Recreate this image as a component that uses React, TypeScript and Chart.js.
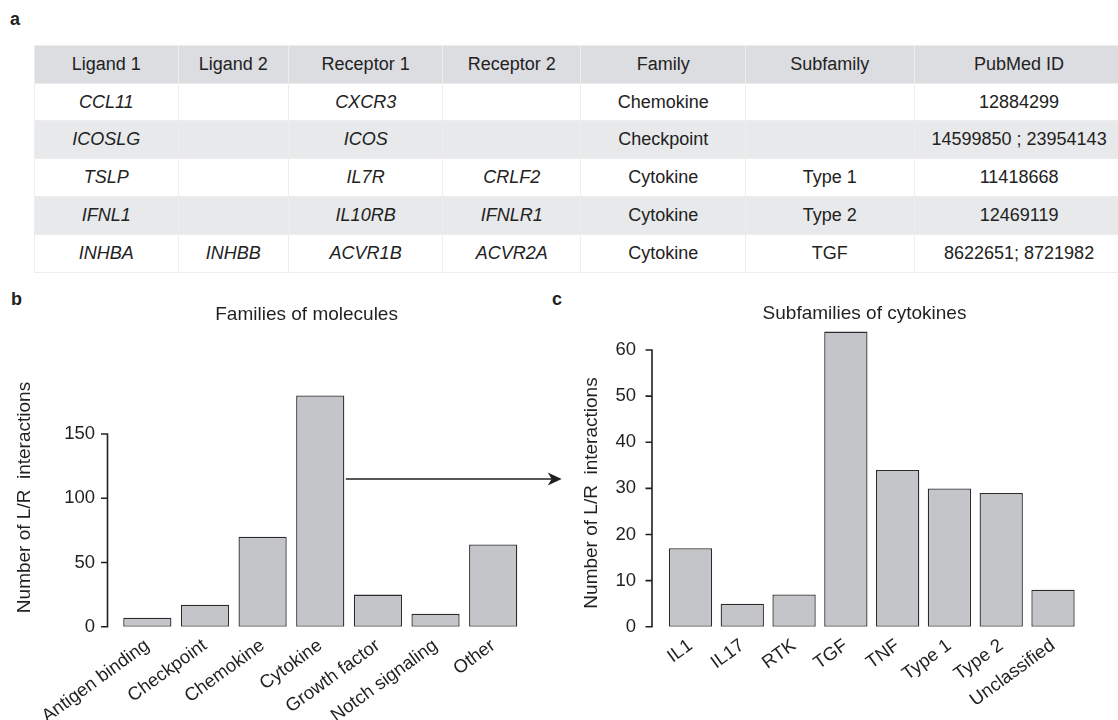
import React, { useEffect, useRef } from "react";
import { Chart, registerables } from "chart.js";

Chart.register(...registerables);

const FONT = "'Liberation Sans', Arial, Helvetica, sans-serif";
const INK = "#231f20";
const BAR_FILL = "#c4c5c9";
const BAR_EDGE = "#2b2b2b";

// ---- Table (panel a) ----
const tableHeaders = ["Ligand 1", "Ligand 2", "Receptor 1", "Receptor 2", "Family", "Subfamily", "PubMed ID"];
const ligand1 = ["CCL11", "ICOSLG", "TSLP", "IFNL1", "INHBA"];
const ligand2 = ["", "", "", "", "INHBB"];
const receptor1 = ["CXCR3", "ICOS", "IL7R", "IL10RB", "ACVR1B"];
const receptor2 = ["", "", "CRLF2", "IFNLR1", "ACVR2A"];
const families = ["Chemokine", "Checkpoint", "Cytokine", "Cytokine", "Cytokine"];
const subfamilies = ["", "", "Type 1", "Type 2", "TGF"];
const pubmedIds = ["12884299", "14599850 ; 23954143", "11418668", "12469119", "8622651; 8721982"];

// ---- Panel b ----
const familyCategories = ["Antigen binding", "Checkpoint", "Chemokine", "Cytokine", "Growth factor", "Notch signaling", "Other"];
const familyCounts = [7, 17, 70, 180, 25, 10, 64];
const familyTicks = [0, 50, 100, 150];

// ---- Panel c ----
const subfamilyCategories = ["IL1", "IL17", "RTK", "TGF", "TNF", "Type 1", "Type 2", "Unclassified"];
const subfamilyCounts = [17, 5, 7, 64, 34, 30, 29, 8];
const subfamilyTicks = [0, 10, 20, 30, 40, 50, 60];

const COL_WIDTHS = [143.5, 110.7, 153.9, 138.3, 164.6, 168.6, 210];

type PanelProps = {
  labels: string[];
  values: number[];
  ticks: number[];
  yMax: number;
  left: number;
  top: number;
  w: number;
  h: number;
  padTop: number;
  padRight: number;
  yWidth: number;
  xHeight: number;
  yTickPad: number;
  axisGap: number;
  title: string;
  titleX: number;
  titleY: number;
  yTitle: string;
  yTitleX: number;
  yTitleY: number;
  arrow?: { category: string; value: number; tipX: number };
};

function makeDecor(p: PanelProps) {
  return {
    id: "decor",
    afterDraw(chart: any) {
      const { ctx, chartArea, scales } = chart;
      const y = scales.y;
      ctx.save();
      ctx.strokeStyle = INK;
      ctx.fillStyle = INK;
      ctx.lineWidth = 1.6;
      // y axis line limited to tick range (R style)
      const ax = chartArea.left - p.axisGap;
      const y0 = y.getPixelForValue(p.ticks[0]);
      const y1 = y.getPixelForValue(p.ticks[p.ticks.length - 1]);
      ctx.beginPath();
      ctx.moveTo(ax, y0 + 0.8);
      ctx.lineTo(ax, y1 - 0.8);
      p.ticks.forEach((v) => {
        const py = y.getPixelForValue(v);
        ctx.moveTo(ax - 6.5, py);
        ctx.lineTo(ax, py);
      });
      ctx.stroke();

      // chart title
      ctx.font = `19px ${FONT}`;
      ctx.textAlign = "center";
      ctx.textBaseline = "alphabetic";
      ctx.fillText(p.title, p.titleX, p.titleY);

      // arrow
      if (p.arrow) {
        const idx = p.labels.indexOf(p.arrow.category);
        const bar = chart.getDatasetMeta(0).data[idx];
        const bp = bar.getProps(["x", "width"], true);
        const sx = bp.x + bp.width / 2 + 1.5;
        const sy = y.getPixelForValue(p.arrow.value);
        const tip = p.arrow.tipX;
        ctx.lineWidth = 1.5;
        ctx.beginPath();
        ctx.moveTo(sx, sy);
        ctx.lineTo(tip - 8, sy);
        ctx.stroke();
        ctx.beginPath();
        ctx.moveTo(tip, sy);
        ctx.lineTo(tip - 14, sy - 6.5);
        ctx.lineTo(tip - 10, sy);
        ctx.lineTo(tip - 14, sy + 6.5);
        ctx.closePath();
        ctx.fill();
      }

      // y axis title
      ctx.translate(p.yTitleX, p.yTitleY);
      ctx.rotate(-Math.PI / 2);
      ctx.textAlign = "center";
      ctx.textBaseline = "middle";
      ctx.fillText(p.yTitle, 0, 0);
      ctx.restore();
    },
  };
}

function BarPanel(p: PanelProps) {
  const ref = useRef<HTMLCanvasElement>(null);
  useEffect(() => {
    const tickFont = { family: FONT, size: 18.5 };
    const chart = new Chart(ref.current as HTMLCanvasElement, {
      type: "bar",
      data: {
        labels: p.labels,
        datasets: [
          {
            data: p.values,
            backgroundColor: BAR_FILL,
            borderColor: BAR_EDGE,
            borderWidth: 1.3,
            borderSkipped: false,
            barPercentage: 0.836,
            categoryPercentage: 1,
          },
        ],
      },
      options: {
        responsive: false,
        animation: false,
        devicePixelRatio: 1,
        events: [],
        layout: { padding: { top: p.padTop, right: p.padRight, left: 0, bottom: 0 } },
        plugins: {
          legend: { display: false },
          tooltip: { enabled: false },
          title: { display: false },
        },
        scales: {
          x: {
            type: "category",
            offset: true,
            grid: { display: false, drawTicks: false },
            border: { display: false },
            ticks: {
              minRotation: 36,
              maxRotation: 36,
              autoSkip: false,
              padding: 8,
              color: INK,
              font: tickFont,
            },
            afterFit: (s: any) => {
              s.height = p.xHeight;
            },
          },
          y: {
            type: "linear",
            min: 0,
            max: p.yMax,
            grid: { display: false, drawTicks: false },
            border: { display: false },
            ticks: { padding: p.yTickPad, color: INK, font: tickFont },
            afterBuildTicks: (s: any) => {
              s.ticks = p.ticks.map((v) => ({ value: v }));
            },
            afterFit: (s: any) => {
              s.width = p.yWidth;
            },
          },
        },
      } as any,
      plugins: [makeDecor(p)],
    });
    return () => chart.destroy();
  }, []);
  return (
    <canvas
      ref={ref}
      width={p.w}
      height={p.h}
      style={{ position: "absolute", left: p.left, top: p.top, width: p.w, height: p.h }}
    />
  );
}

const cellBase: React.CSSProperties = {
  border: "1.5px solid #ededed",
  padding: 0,
  textAlign: "center",
  verticalAlign: "middle",
  fontWeight: "normal",
  whiteSpace: "nowrap",
};

const panelLabel: React.CSSProperties = {
  position: "absolute",
  fontFamily: FONT,
  fontWeight: "bold",
  fontSize: 18,
  lineHeight: "18px",
  color: INK,
};

export default function App() {
  useEffect(() => {
    document.body.style.margin = "0";
  }, []);
  const rows = ligand1.map((_, i) => [
    { t: ligand1[i], it: true },
    { t: ligand2[i], it: true },
    { t: receptor1[i], it: true },
    { t: receptor2[i], it: true },
    { t: families[i], it: false },
    { t: subfamilies[i], it: false },
    { t: pubmedIds[i], it: false },
  ]);
  return (
    <div
      style={{
        position: "absolute",
        left: 0,
        top: 0,
        width: 1118,
        height: 720,
        overflow: "hidden",
        background: "#ffffff",
      }}
    >
      <div style={{ ...panelLabel, left: 10, top: 10 }}>a</div>
      <div style={{ ...panelLabel, left: 11, top: 290 }}>b</div>
      <div style={{ ...panelLabel, left: 552, top: 290 }}>c</div>

      <table
        style={{
          position: "absolute",
          left: 34,
          top: 45,
          width: 1090,
          borderCollapse: "collapse",
          tableLayout: "fixed",
          fontFamily: FONT,
          fontSize: 18,
          color: "#222222",
        }}
      >
        <colgroup>
          {COL_WIDTHS.map((w, i) => (
            <col key={i} style={{ width: w }} />
          ))}
        </colgroup>
        <thead>
          <tr style={{ background: "#dcdde0", height: 37.7 }}>
            {tableHeaders.map((h) => (
              <th key={h} style={cellBase}>
                {h}
              </th>
            ))}
          </tr>
        </thead>
        <tbody>
          {rows.map((r, i) => (
            <tr key={i} style={{ background: i % 2 === 1 ? "#e8e9eb" : "#ffffff", height: 37.8 }}>
              {r.map((c, j) => (
                <td key={j} style={{ ...cellBase, fontStyle: c.it ? "italic" : "normal" }}>
                  {c.t}
                </td>
              ))}
            </tr>
          ))}
        </tbody>
      </table>

      <BarPanel
        labels={familyCategories}
        values={familyCounts}
        ticks={familyTicks}
        yMax={190}
        left={0}
        top={280}
        w={566}
        h={440}
        padTop={102.6}
        padRight={44}
        yWidth={118.5}
        xHeight={93.3}
        yTickPad={23.5}
        axisGap={11}
        title="Families of molecules"
        titleX={306.6}
        titleY={40}
        yTitle="Number of L/R  interactions"
        yTitleX={25}
        yTitleY={217.5}
        arrow={{ category: "Cytokine", value: 115, tipX: 561.7 }}
      />
      <BarPanel
        labels={subfamilyCategories}
        values={subfamilyCounts}
        ticks={subfamilyTicks}
        yMax={66}
        left={560}
        top={280}
        w={558}
        h={440}
        padTop={42.4}
        padRight={39.1}
        yWidth={104.6}
        xHeight={93.3}
        yTickPad={28.6}
        axisGap={12.6}
        title="Subfamilies of cytokines"
        titleX={304.5}
        titleY={39}
        yTitle="Number of L/R  interactions"
        yTitleX={32}
        yTitleY={213}
      />
    </div>
  );
}
